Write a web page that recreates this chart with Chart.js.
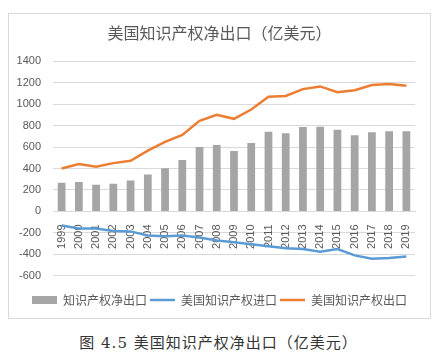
<!DOCTYPE html>
<html>
<head>
<meta charset="utf-8">
<script src="https://cdn.jsdelivr.net/npm/chart.js@4/dist/chart.umd.min.js"></script>
<style>
  html, body { margin: 0; padding: 0; background: #fff; }
  body { width: 441px; height: 357px; position: relative; overflow: hidden; }
  #box { position: absolute; left: 8px; top: 13px; width: 421px; height: 304px; border: 1px solid #d9d9d9; }
  #caption { position: absolute; left: 0; width: 441px; top: 331px; text-align: center; padding-right: 4px; box-sizing: border-box;
    font: 15px "DejaVu Serif", "Noto Sans CJK SC", serif; color: #333; letter-spacing: 1px; }
</style>
</head>
<body>
<div id="box"><canvas id="c" width="421" height="304"></canvas></div>
<div id="caption">图 4.5 美国知识产权净出口（亿美元）</div>
<script>
const years = ['1999','2000','2001','2002','2003','2004','2005','2006','2007','2008','2009','2010','2011','2012','2013','2014','2015','2016','2017','2018','2019'];
const netExport = [268, 274, 249, 258, 287, 343, 403, 479, 600, 618, 563, 638, 742, 729, 786, 789, 760, 710, 738, 748, 748];
const imports = [-132, -160, -160, -183, -186, -225, -231, -225, -244, -272, -288, -306, -325, -344, -350, -375, -350, -410, -440, -435, -420];
const exportsArr = [400, 441, 416, 450, 472, 567, 649, 712, 844, 901, 863, 950, 1068, 1076, 1140, 1165, 1111, 1130, 1178, 1187, 1171];
const yTicks = [-600, -400, -200, 0, 200, 400, 600, 800, 1000, 1200, 1400];

const grey = '#595959';
new Chart(document.getElementById('c'), {
  data: {
    labels: years,
    datasets: [
      { type: 'bar', label: '知识产权净出口', data: netExport, backgroundColor: '#a5a5a5', borderWidth: 0,
        barPercentage: 0.45, categoryPercentage: 1, pointStyle: 'rect' },
      { type: 'line', label: '美国知识产权进口', data: imports, borderColor: '#5b9bd5', backgroundColor: '#5b9bd5',
        borderWidth: 2.5, pointRadius: 0, tension: 0, pointStyle: 'line' },
      { type: 'line', label: '美国知识产权出口', data: exportsArr, borderColor: '#ed7d31', backgroundColor: '#ed7d31',
        borderWidth: 2.5, pointRadius: 0, tension: 0, pointStyle: 'line' }
    ]
  },
  options: {
    responsive: false,
    animation: false,
    layout: { padding: { left: 0, right: 0, top: 8, bottom: 2 } },
    plugins: {
      title: { display: true, text: '美国知识产权净出口（亿美元）', color: grey,
        font: { family: '"Noto Sans CJK SC", sans-serif', size: 16, weight: 'normal' }, padding: { top: 1, bottom: 19 } },
      legend: { position: 'bottom',
        title: { display: true, text: ' ', font: { size: 1 }, padding: { top: 14, bottom: 0 } },
        labels: { color: grey, usePointStyle: true, pointStyleWidth: 25, boxHeight: 8, padding: 3,
          font: { family: '"Noto Sans CJK SC", sans-serif', size: 12 } } },
      tooltip: { enabled: false }
    },
    scales: {
      y: { min: -600, max: 1400,
        afterBuildTicks: (s) => { s.ticks = yTicks.map(v => ({ value: v })); },
        afterFit: (s) => { s.width = 44; },
        ticks: { color: grey, font: { family: '"Liberation Sans", sans-serif', size: 11 }, padding: 12,
          callback: (v) => String(v) },
        grid: { color: '#d9d9d9', drawTicks: false }, border: { display: false } },
      yR: { type: 'linear', position: 'right', display: true,
        afterFit: (s) => { s.width = 15; },
        ticks: { display: false }, grid: { display: false, drawTicks: false }, border: { display: false } },
      x: { position: { y: 0 }, z: 1,
        ticks: { color: grey, minRotation: 90, maxRotation: 90, autoSkip: false, padding: 5,
          font: { family: '"Liberation Sans", sans-serif', size: 11 } },
        grid: { display: false }, border: { color: '#d9d9d9' } }
    }
  }
});
</script>
</body>
</html>
